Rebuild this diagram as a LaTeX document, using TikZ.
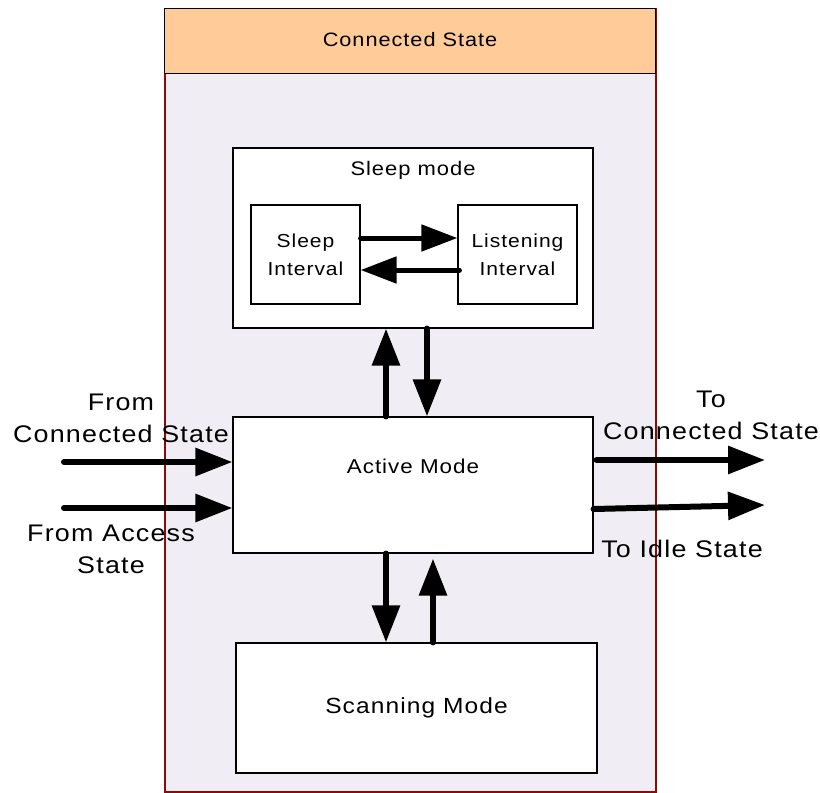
\documentclass[tikz,border=0pt]{standalone}
\usepackage{fontspec}
\setmainfont{Liberation Sans}[FakeStretch=1.12,LetterSpace=5]
\usetikzlibrary{arrows.meta,calc}
\definecolor{peach}{RGB}{255,204,153}
\definecolor{lav}{RGB}{240,238,244}
\definecolor{darkred}{RGB}{140,10,10}
\tikzset{
  box/.style={draw=black,line width=1.2pt,fill=white,inner sep=0pt},
  big/.style={-{Triangle[length=37pt,width=27pt]},line width=6pt,line cap=round},
  small/.style={-{Triangle[length=36pt,width=26pt]},line width=5pt,line cap=round},
  lbl/.style={align=center,font=\fontsize{24}{32}\selectfont,inner sep=0pt},
}
\begin{document}
\begin{tikzpicture}[x=1pt,y=-1pt]
\useasboundingbox (0,0) rectangle (820,793);
% outer state
\node[draw=darkred,line width=1.6pt,fill=lav,minimum width=491pt,minimum height=783pt,anchor=north west,inner sep=0pt] (outer) at (164,8) {};
\node[draw=black,line width=1.2pt,fill=peach,minimum width=491pt,minimum height=65pt,anchor=north west,inner sep=0pt] (head) at (164,8) {};
\node[font=\fontsize{19.4}{23}\selectfont] (headtxt) at (410,40) {Connected State};
% boxes
\node[box,minimum width=360pt,minimum height=180pt] (sleep) at (413,238) {};
\node[font=\fontsize{19.6}{23}\selectfont] (sleeptxt) at (413,170) {Sleep mode};
\node[box,minimum width=109pt,minimum height=99pt,align=center,font=\fontsize{18.8}{28}\selectfont] (si) at (305.5,254.5) {Sleep\\Interval};
\node[box,minimum width=119pt,minimum height=99pt,align=center,font=\fontsize{18.8}{28}\selectfont] (li) at (517.5,254.5) {Listening\\Interval};
\node[box,minimum width=360pt,minimum height=136pt] (active) at (413,485) {};
\node[font=\fontsize{20}{23}\selectfont] (activetxt) at (413,466) {Active Mode};
\node[box,minimum width=361pt,minimum height=130pt,font=\fontsize{21.9}{26}\selectfont] (scan) at (416.5,708) {Scanning Mode};
% sleep arrows
\draw[small] ([yshift=16.5pt]si.east) -- ([yshift=16.5pt]li.west);
\draw[small] ([yshift=-15.5pt,xshift=2pt]li.west) -- ([yshift=-15.5pt]si.east);
% sleep <-> active
\draw[big] ([xshift=-27pt]active.north) -- ([xshift=-27pt]active.north |- sleep.south);
\draw[big] ([xshift=14pt]sleep.south) -- ([xshift=14pt]sleep.south |- active.north);
% active <-> scan
\draw[big] ([xshift=-27pt]active.south) -- ([xshift=-27pt]active.south |- scan.north);
\draw[big] ([xshift=16.5pt]scan.north) -- ([xshift=16.5pt,yshift=-5pt]scan.north |- active.south);
% external arrows
\coordinate (fc) at (64,462);
\coordinate (fa) at (64,508);
\coordinate (tc) at (765,460);
\coordinate (ti) at (765,505);
\draw[big] (fc) -- (active.west |- fc);
\draw[big] (fa) -- (active.west |- fa);
\draw[big] ([xshift=3pt]active.east |- tc) -- (tc);
\draw[big] ($(active.east)+(0,24)$) -- (ti);
% labels
\node[lbl] (l1) at (121,418) {From\\Connected State};
\node[lbl] (l2) at (111,549.5) {From Access\\State};
\node[lbl] (l3) at (711,415.5) {To\\Connected State};
\node[lbl] (l4) at (682,549) {To Idle State};
\end{tikzpicture}
\end{document}
